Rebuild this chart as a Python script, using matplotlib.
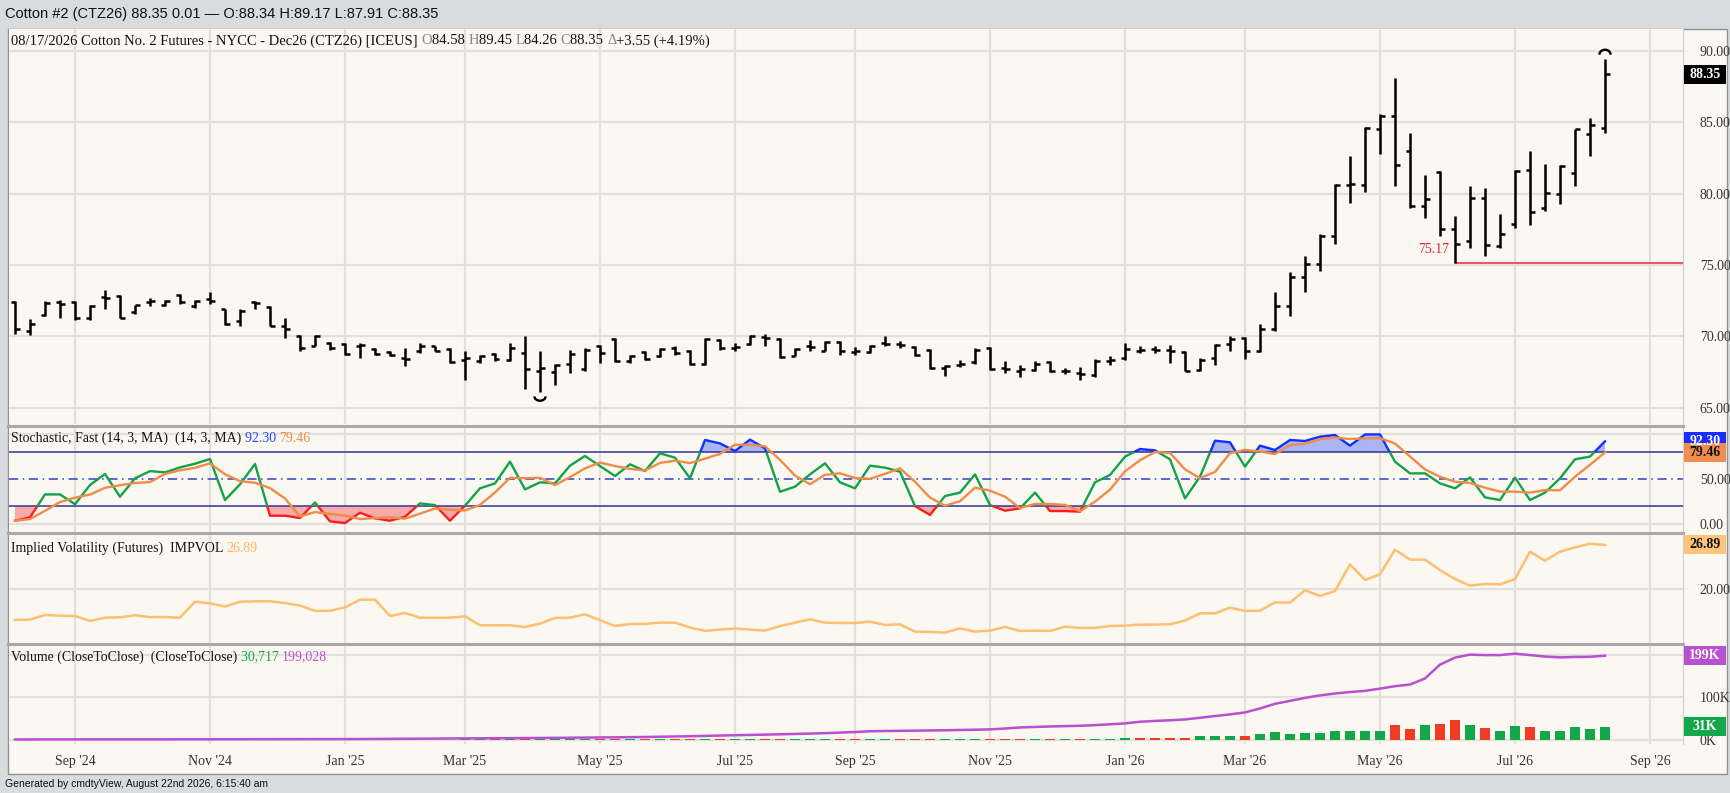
import matplotlib
matplotlib.use("Agg")
import matplotlib.pyplot as plt
import numpy as np
import pandas as pd
from matplotlib.patches import Rectangle, Arc
from matplotlib.lines import Line2D
from matplotlib.transforms import blended_transform_factory

# ---------------- data ----------------
start_date = "2024-08-05"
opens = [72.4, 70.4, 71.5, 72.4, 72.4, 71.3, 72.75, 72.85, 71.7, 72.4,
         72.2, 72.9, 72.1, 72.6, 71.9, 71.1, 72.4, 72.05, 70.7, 70.05,
         69.35, 69.55, 69.5, 69.35, 69.1, 68.9, 68.5, 69.0, 69.3, 69.1,
         68.35, 68.25, 68.75, 68.35, 68.85, 67.6, 67.5, 68.1, 67.7, 69.3,
         69.8, 68.25, 68.9, 68.6, 69.2, 69.0, 68.1, 69.75, 69.2, 69.45,
         69.95, 69.85, 68.65, 69.35, 69.0, 69.6, 68.9, 68.9, 69.55, 69.45,
         69.25, 69.05, 67.8, 68.0, 68.2, 69.2, 67.8, 67.6, 67.65, 68.2,
         67.55, 67.45, 67.3, 68.3, 68.5, 69.0, 69.1, 69.05, 68.9, 67.65,
         68.5, 69.5, 69.9, 68.95, 70.5, 72.1, 74.15, 75.05, 77.05, 80.6,
         80.6, 84.55, 85.45, 83.0, 79.15, 81.5, 77.55, 76.7, 79.7, 76.3,
         77.85, 81.65, 79.0, 79.95, 81.45, 84.2, 84.58]
highs = [72.45, 71.2, 72.45, 72.55, 72.45, 72.2, 73.25, 72.9, 72.2, 72.7,
         72.55, 72.95, 72.55, 73.1, 71.95, 71.9, 72.45, 72.1, 71.3, 70.1,
         70.1, 69.6, 69.55, 69.55, 69.2, 68.95, 69.2, 69.55, 69.35, 69.2,
         68.95, 68.7, 68.85, 69.55, 70.0, 69.0, 68.05, 69.05, 69.2, 69.4,
         69.9, 68.7, 68.95, 69.2, 69.3, 69.05, 69.9, 69.8, 69.55, 70.1,
         70.2, 69.9, 69.2, 69.75, 69.65, 69.65, 69.25, 69.4, 70.0, 69.65,
         69.3, 69.1, 68.0, 68.35, 69.2, 69.25, 68.25, 68.0, 68.25, 68.25,
         67.8, 67.85, 68.4, 68.6, 69.55, 69.3, 69.3, 69.4, 68.95, 68.5,
         69.5, 70.05, 69.95, 70.9, 73.1, 74.5, 75.65, 77.15, 80.65, 82.65,
         84.65, 85.55, 88.1, 84.25, 81.3, 81.6, 78.45, 80.5, 80.4, 78.55,
         81.65, 83.0, 82.1, 82.0, 84.55, 85.3, 89.45]
lows = [70.2, 70.1, 71.45, 71.3, 71.15, 71.15, 71.95, 71.3, 71.6, 72.1,
        72.1, 72.3, 72.0, 72.3, 70.8, 70.7, 71.95, 70.7, 69.9, 68.95,
        69.3, 69.05, 68.7, 68.5, 68.7, 68.6, 67.95, 68.85, 68.95, 68.15,
        66.95, 68.15, 68.3, 68.25, 66.3, 66.1, 66.6, 67.45, 67.55, 68.15,
        68.2, 68.15, 68.35, 68.55, 68.7, 68.0, 68.0, 69.05, 68.95, 69.4,
        69.35, 68.5, 68.6, 68.95, 68.95, 68.7, 68.7, 68.85, 69.3, 69.2,
        68.6, 67.7, 67.2, 67.85, 68.1, 67.65, 67.45, 67.15, 67.55, 67.5,
        67.4, 66.95, 67.15, 68.0, 68.35, 68.85, 68.85, 68.15, 67.55, 67.55,
        68.0, 69.0, 68.45, 68.9, 70.4, 71.45, 73.1, 74.6, 76.45, 79.35,
        80.1, 82.75, 80.5, 79.0, 78.3, 77.05, 75.17, 76.2, 75.6, 76.2,
        77.6, 77.8, 78.8, 79.3, 80.5, 82.65, 84.26]
closes = [70.5, 70.9, 72.35, 72.3, 71.3, 72.1, 72.7, 71.3, 72.2, 72.5,
          72.5, 72.4, 72.5, 72.45, 70.9, 71.75, 72.35, 70.75, 70.5, 69.2,
          70.0, 69.2, 68.8, 69.4, 68.75, 68.7, 68.4, 69.3, 69.0, 68.2,
          68.5, 68.6, 68.4, 69.2, 67.7, 67.8, 68.0, 68.8, 69.05, 68.85,
          68.25, 68.6, 68.4, 69.15, 68.85, 68.1, 69.8, 69.2, 69.25, 70.05,
          69.9, 68.55, 69.1, 69.25, 69.6, 68.95, 68.95, 69.35, 69.45, 69.4,
          68.7, 67.8, 67.95, 68.1, 69.05, 67.75, 67.7, 67.7, 68.1, 67.55,
          67.6, 67.4, 68.25, 68.35, 69.1, 69.05, 69.05, 68.95, 67.6, 68.35,
          69.4, 69.8, 68.95, 70.55, 72.1, 74.15, 75.05, 77.05, 80.6, 80.65,
          84.6, 85.45, 82.0, 79.15, 79.65, 77.55, 76.45, 79.7, 76.4, 77.2,
          81.6, 78.7, 80.05, 81.95, 84.5, 84.8, 88.35]
stoch_k = [3.6, 7.3, 33, 33, 22, 43.5, 55.8, 30.4, 51, 59,
           57.6, 63.2, 67.3, 72.5, 26.7, 44.2, 67, 9.2, 9.2, 6.6,
           24, 2.9, 1, 12.5, 6.2, 3.6, 8, 23, 21, 3.6,
           20.4, 39.8, 45.3, 69.6, 38.6, 46.5, 45.3, 65.1, 75.9, 64.7,
           53.5, 66.6, 59.1, 78.9, 74, 51, 93.8, 90, 81.5, 94.2,
           84.5, 36, 41.6, 55.4, 67.7, 46.5, 39.8, 65.1, 62.9, 58.4,
           20, 10, 31.2, 35, 55.4, 21.1, 14.8, 17.4, 35, 14.4,
           14.4, 13.7, 46.5, 54.7, 75.2, 83.7, 82.2, 72.2, 28.6, 52.8,
           93, 91.2, 64, 87.5, 82.6, 93.8, 92.7, 97.5, 99.4, 87.5,
           100, 100, 69.6, 56.5, 56.5, 45.3, 39.8, 52, 29.7, 26.7,
           51.7, 26.7, 35, 51, 72.2, 75.2, 92.3]
impvol = [15.15, 15.2, 15.93, 15.83, 15.77, 15.0, 15.5, 15.57, 15.88, 15.6,
          15.6, 15.5, 18.0, 17.76, 17.24, 18.0, 18.07, 18.07, 17.8, 17.4,
          16.56, 16.6, 17.13, 18.33, 18.33, 15.77, 16.24, 15.5, 15.5, 15.5,
          15.72, 14.31, 14.31, 14.31, 14.05, 14.57, 15.46, 15.5, 16.04, 15.1,
          14.2, 14.52, 14.52, 14.73, 14.73, 13.95, 13.43, 13.64, 13.8, 13.64,
          13.48, 14.2, 14.73, 15.25, 14.73, 14.68, 14.68, 14.89, 14.37, 14.47,
          13.32, 13.27, 13.17, 13.84, 13.32, 13.48, 14.05, 13.43, 13.48, 13.43,
          14.1, 13.9, 13.9, 14.2, 14.26, 14.42, 14.42, 14.47, 15.04, 16.19,
          16.19, 17.08, 16.56, 16.6, 17.91, 17.86, 19.8, 18.9, 19.69, 23.86,
          21.41, 22.3, 26.16, 24.6, 24.6, 22.97, 21.56, 20.52, 20.78, 20.73,
          21.56, 25.84, 24.43, 25.84, 26.52, 27.09, 26.89]
volume_k = [0.3, 0.3, 0.3, 0.3, 0.3, 0.3, 0.3, 0.3, 0.3, 0.3,
            0.3, 0.3, 0.3, 0.3, 0.3, 0.3, 0.3, 0.3, 0.3, 0.3,
            0.4, 0.4, 0.4, 0.4, 0.4, 0.4, 0.4, 0.4, 0.4, 0.4,
            0.5, 0.5, 0.5, 0.5, 0.6, 0.6, 0.5, 0.5, 0.5, 0.5,
            0.6, 0.6, 0.6, 0.7, 0.8, 1.0, 1.2, 1.0, 1.1, 1.2,
            1.2, 1.3, 1.2, 1.4, 1.4, 1.5, 1.5, 1.6, 1.6, 1.7,
            1.8, 1.8, 1.7, 1.8, 2.0, 2.0, 2.1, 2.2, 2.2, 2.3,
            2.4, 2.6, 2.6, 2.8, 3.0, 3.2, 3.3, 3.5, 3.6, 8.7,
            8.7, 8.7, 8.7, 12.6, 18.0, 13.4, 16.5, 16.5, 20.5, 20.5,
            20.5, 20.5, 34.6, 26.0, 33.9, 37.0, 47.2, 34.6, 27.6, 20.5,
            33.0, 30.0, 20.5, 20.5, 30.0, 26.0, 30.7]
open_int_k = [0.6, 0.6, 0.7, 0.7, 0.7, 0.8, 0.8, 0.8, 0.9, 0.9,
              0.9, 1.0, 1.0, 1.0, 1.1, 1.1, 1.2, 1.2, 1.3, 1.3,
              1.4, 1.4, 1.5, 1.6, 1.8, 2.0, 2.2, 2.4, 2.6, 2.9,
              3.1, 3.3, 3.5, 3.7, 3.9, 4.1, 4.4, 4.7, 5.0, 5.3,
              5.6, 6.0, 6.4, 7.0, 7.6, 8.2, 9.0, 9.8, 10.6, 11.3,
              12.0, 12.8, 13.6, 14.5, 15.5, 16.8, 18.2, 20.0, 20.6, 21.0,
              21.4, 21.9, 22.4, 23.0, 23.6, 24.4, 26.5, 29.0, 30.2, 31.3,
              32.2, 33.0, 34.5, 36.5, 38.6, 42.5, 44.5, 46.0, 48.0, 52.0,
              56.0, 60.0, 64.6, 74.0, 85.0, 92.0, 99.0, 105.0, 109.4, 113.0,
              115.7, 121.0, 126.8, 130.7, 145.0, 178.0, 194.5, 201.6, 200.5, 200.5,
              204.0, 200.5, 197.0, 195.0, 196.0, 196.5, 199.0]
price_ticks = [65, 70, 75, 80, 85, 90]
support_level = 75.17
support_from = 96

header_parts = [("08/17/2026 Cotton No. 2 Futures - NYCC - Dec26 (CTZ26) [ICEUS] ", "#111111"),
                ("O", "#888888"), ("84.58 ", "#111111"), ("H", "#888888"), ("89.45 ", "#111111"),
                ("L", "#888888"), ("84.26 ", "#111111"), ("C", "#888888"), ("88.35 ", "#111111"),
                ("\u0394", "#888888"), ("+3.55 (+4.19%)", "#111111")]
title_text = "Cotton #2 (CTZ26) 88.35 0.01 \u2014 O:88.34 H:89.17 L:87.91 C:88.35"
footer_text = "Generated by cmdtyView, August 22nd 2026, 6:15:40 am"

# ---------------- setup ----------------
n = len(closes)
x = np.arange(n)
o, h, l, c = map(np.array, (opens, highs, lows, closes))
K = np.array(stoch_k, dtype=float)
D = pd.Series(K).rolling(3, min_periods=1).mean().to_numpy()
dates = pd.date_range(start_date, periods=n + 6, freq="7D")
tick_idx = [i for i in range(1, len(dates))
            if dates[i].month != dates[i - 1].month and dates[i].month % 2 == 1]
tick_lab = [dates[i].strftime("%b '%y") for i in tick_idx]

W, H = 1730, 793
fig = plt.figure(figsize=(W / 100, H / 100), dpi=100)
fig.patch.set_facecolor("#d9dcdf")
SERIF = ["Liberation Serif", "DejaVu Serif"]
SANS = ["Liberation Sans", "DejaVu Sans"]
CREAM = "#faf8f1"
GRID = "#e1e0dc"


def fx(px):
    return px / W


def fy(py):
    return 1 - py / H


fig.add_artist(Rectangle((fx(8), fy(774)), fx(1727) - fx(8), fy(29) - fy(774),
                         transform=fig.transFigure, facecolor=CREAM,
                         edgecolor="#8e9297", lw=1.0, zorder=0))

XL, XR = 9, 1683


def mkax(top, bot):
    ax = fig.add_axes([fx(XL), fy(bot), fx(XR) - fx(XL), fy(top) - fy(bot)])
    ax.set_facecolor(CREAM)
    for s in ("left", "top", "bottom"):
        ax.spines[s].set_visible(False)
    ax.spines["right"].set_color("#cfcfcf")
    ax.yaxis.tick_right()
    ax.tick_params(axis="both", length=0, labelsize=10, labelcolor="#333333", pad=12)
    for lab in ax.get_yticklabels():
        lab.set_family(SERIF)
    ax.set_xlim(-0.4, 111.2)
    ax.set_xticks(tick_idx)
    ax.set_xticklabels([])
    ax.grid(axis="x", color=GRID, lw=1.6)
    ax.set_axisbelow(True)
    return ax


axm = mkax(29, 424)
axs = mkax(427, 532)
axi = mkax(534, 643)
axv = mkax(645, 744)

# ---------------- main price panel ----------------
axm.set_ylim(63.87, 91.52)
axm.set_yticks(price_ticks)
axm.set_yticklabels([f"{v:.2f}" for v in price_ticks], family=SERIF)
axm.grid(axis="y", color=GRID, lw=1.6)
lw_bar = 1.8
axm.vlines(x, l, h, color="black", lw=lw_bar, capstyle="butt", zorder=3)
axm.hlines(o, x - 0.3, x, color="black", lw=lw_bar, zorder=3)
axm.hlines(c, x, x + 0.3, color="black", lw=lw_bar, zorder=3)
axm.hlines(support_level, support_from, 111.2, color="#ee3355", lw=1.2, zorder=2)
axm.text(support_from - 0.4, support_level + 0.9, f"{support_level:.2f}", color="#f0203f",
         fontsize=10, family=SERIF, ha="right", va="center")
ihi = int(np.argmax(h))
ilo = int(np.argmin(l))
axm.add_patch(Arc((ihi, h[ihi] + 0.27), 0.75, 0.7, theta1=0, theta2=180, lw=1.7,
                  color="black", zorder=3))
axm.add_patch(Arc((ilo, l[ilo] - 0.3), 0.75, 0.6, theta1=180, theta2=360, lw=1.7,
                  color="black", zorder=3))

# ---------------- stochastic panel ----------------
axs.set_ylim(-9, 108.3)
axs.set_yticks([0, 50])
axs.set_yticklabels(["0.00", "50.00"], family=SERIF)
for v in (0, 100):
    axs.axhline(v, color=GRID, lw=1.6, zorder=0)
axs.fill_between(x, K, 80, where=K >= 80, interpolate=True, color="#aab5f2", lw=0, zorder=1)
axs.fill_between(x, K, 20, where=K <= 20, interpolate=True, color="#f6aaaa", lw=0, zorder=1)
axs.axhline(80, color="#2f3597", lw=1.1, zorder=2)
axs.axhline(20, color="#2f3597", lw=1.1, zorder=2)
axs.axhline(50, color="#3440c9", lw=1.1, ls=(0, (6, 3, 1, 3)), zorder=2)
for lo_v, hi_v, col in ((20, 80, "#12a349"), (80, 500, "#1230ff"), (-500, 20, "#ff1c1c")):
    ln, = axs.plot(x, K, color=col, lw=1.7, zorder=4)
    ln.set_clip_path(Rectangle((-1, lo_v), 120, hi_v - lo_v, transform=axs.transData))
axs.plot(x, D, color="#f08c48", lw=1.7, zorder=5)

# ---------------- implied volatility panel ----------------
axi.set_ylim(11.54, 28.61)
axi.set_yticks([20])
axi.set_yticklabels(["20.00"], family=SERIF)
axi.grid(axis="y", color=GRID, lw=1.6)
axi.plot(x, impvol, color="#ffbf70", lw=1.8, zorder=3)

# ---------------- volume panel ----------------
axv.set_ylim(-10.2, 224.4)
axv.set_yticks([0, 100])
axv.set_yticklabels(["0K", "100K"], family=SERIF)
for v in (0, 100, 200):
    axv.axhline(v, color=GRID, lw=1.6, zorder=0)
vcol = ["#12a84a" if i == 0 or c[i] > c[i - 1] else "#f03c24" for i in range(n)]
axv.bar(x, volume_k, width=0.62, color=vcol, zorder=3)
axv.plot(x, open_int_k, color="#b94fd1", lw=1.8, zorder=4)
axv.set_xticklabels(tick_lab, family=SERIF)
axv.tick_params(axis="x", pad=8, labelsize=10)

# ---------------- separators ----------------
for yy in (425.5, 533, 644):
    fig.add_artist(Line2D([fx(8), fx(XR)], [fy(yy), fy(yy)], transform=fig.transFigure,
                          color="#a9a9a9", lw=2.2, zorder=10))

# ---------------- value boxes ----------------
inv = fig.transFigure.inverted()


def vbox(ax, val, text, fc, tc):
    ypix = ax.transData.transform((0, val))[1]
    y0 = inv.transform((0, ypix - 9.5))[1]
    y1 = inv.transform((0, ypix + 9.5))[1]
    fig.add_artist(Rectangle((fx(XR + 1), y0), fx(1726) - fx(XR + 1), y1 - y0,
                             transform=fig.transFigure, facecolor=fc, edgecolor="none",
                             zorder=11))
    fig.text(fx(1705), (y0 + y1) / 2, text, color=tc, fontsize=10, fontweight="bold",
             family=SERIF, ha="center", va="center", zorder=12)


vbox(axm, closes[-1], f"{closes[-1]:.2f}", "#000000", "white")
vbox(axs, K[-1], f"{K[-1]:.2f}", "#1a2cff", "white")
vbox(axs, D[-1], "79.46", "#f08d4f", "#111111")
vbox(axi, impvol[-1], f"{impvol[-1]:.2f}", "#ffc47c", "#111111")
vbox(axv, open_int_k[-1], f"{open_int_k[-1]:.0f}K", "#b94fd1", "white")
vbox(axv, volume_k[-1], f"{volume_k[-1]:.0f}K", "#12a84a", "white")

# ---------------- texts ----------------
renderer = fig.canvas.get_renderer()


def pieces(x_px, y_px, parts, size, family):
    xp = x_px
    for s, col in parts:
        t = fig.text(fx(xp), fy(y_px), s, color=col, fontsize=size, family=family,
                     ha="left", va="center", zorder=12)
        xp += t.get_window_extent(renderer=renderer).width


pieces(11, 41, header_parts, 10.5, SERIF)
pieces(11, 438, [("Stochastic, Fast (14, 3, MA)  (14, 3, MA) ", "#111111"),
                 (f"{K[-1]:.2f} ", "#2447ff"), ("79.46", "#f08c48")], 10, SERIF)
pieces(11, 548, [("Implied Volatility (Futures)  IMPVOL ", "#111111"),
                 (f"{impvol[-1]:.2f}", "#ffb45e")], 10, SERIF)
pieces(11, 657, [("Volume (CloseToClose)  (CloseToClose) ", "#111111"),
                 ("30,717 ", "#12a84a"), ("199,028", "#b94fd1")], 10, SERIF)
fig.text(fx(5), fy(14), title_text, fontsize=10.5, family=SANS, color="#111111",
         ha="left", va="center")
fig.text(fx(5), fy(784), footer_text, fontsize=7.5, family=SANS, color="#111111",
         ha="left", va="center")

fig.savefig("out.png", dpi=100, facecolor=fig.get_facecolor())
